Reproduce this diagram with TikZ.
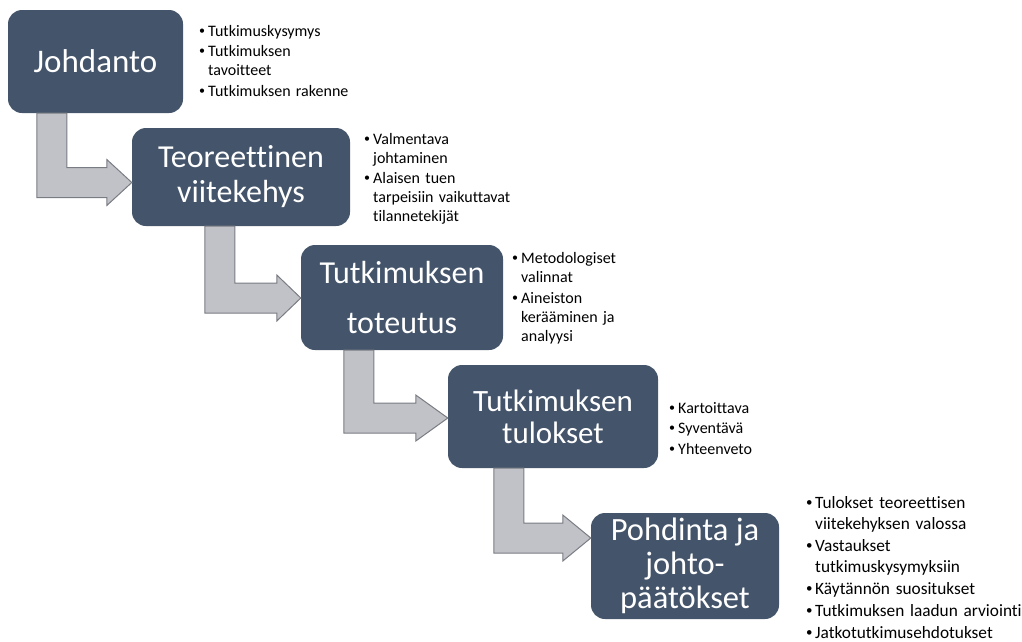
\documentclass[tikz,border=0pt]{standalone}
\usepackage{fontspec}
\setmainfont{Carlito}[Ligatures=CommonOff]
\usepackage{xcolor}
\usetikzlibrary{calc,positioning}

\definecolor{laatikko}{RGB}{68,84,106}
\definecolor{nuoli}{RGB}{192,194,199}
\definecolor{nuolireuna}{RGB}{122,124,132}

% bullet item with hanging indent
\newcommand\bul[1]{\hangindent=9pt\hangafter=1\noindent
  \makebox[9pt][l]{\raisebox{0.12em}{\scalebox{0.75}{\textbullet}}}#1\par}
% bent arrow: #1 box above, #2 tip, #3 shaft offset, #4 head length
\newcommand\taite[4]{%
\draw[pil] let \p1=(#2), \p2=(#1.south) in
 (\x1-#3pt,\y2) -- (\x1-#3pt+30pt,\y2) -- (\x1-#3pt+30pt,\y1+15pt)
 -- (\x1-#4pt,\y1+15pt) -- (\x1-#4pt,\y1+23pt) -- (#2)
 -- (\x1-#4pt,\y1-23pt) -- (\x1-#4pt,\y1-15pt) -- (\x1-#3pt,\y1-15pt) -- cycle;}

\begin{document}
\begin{tikzpicture}[x=1pt,y=-1pt,
  boksi/.style={fill=laatikko,rounded corners=14pt,text=white,align=center,inner sep=0pt},
  lista/.style={anchor=north west,inner sep=0pt,text width=225pt,
    font=\fontsize{16}{19}\selectfont\raggedright\setlength{\parskip}{1.5pt}},
  pil/.style={fill=nuoli,draw=nuolireuna,line width=1pt,line join=miter}]
\useasboundingbox (0,0) rectangle (1022,641);

% boxes
\node[boksi,minimum width=175pt,minimum height=103pt,font=\fontsize{33}{36}\selectfont]
  (johd) at (95.5,61.5) {Johdanto};
\node[boksi,minimum width=218pt,minimum height=98pt,font=\fontsize{32}{35}\selectfont]
  (viite) at (241,177) {Teoreettinen\\viitekehys};
\node[boksi,minimum width=202pt,minimum height=105pt,font=\fontsize{32}{34}\selectfont]
  (toteu) at (402,297.5) {Tutkimuksen\\[16pt]toteutus};
\node[boksi,minimum width=210pt,minimum height=103pt,font=\fontsize{31}{32}\selectfont]
  (tulos) at (553,416.5) {Tutkimuksen\\tulokset};
\node[boksi,minimum width=188pt,minimum height=106pt,font=\fontsize{32.5}{34}\selectfont]
  (pohd) at (685,566) {Pohdinta ja\\johto-\\päätökset};

% arrows
\coordinate (k1) at (viite.west |- 0,182.5);
\coordinate (k2) at (toteu.west |- 0,298);
\coordinate (k3) at (tulos.west |- 0,418);
\coordinate (k4) at (pohd.west |- 0,538);
\taite{johd}{k1}{95}{25}
\taite{viite}{k2}{96}{24}
\taite{toteu}{k3}{104}{32}
\taite{tulos}{k4}{97}{28}

% bullet lists
\node[lista] (l1) at (199,25) {\bul{Tutkimuskysymys}\bul{Tutkimuksen\newline tavoitteet}\bul{Tutkimuksen rakenne}};
\node[lista] (l2) at (364,133) {\bul{Valmentava\newline johtaminen}\bul{Alaisen tuen\newline tarpeisiin vaikuttavat\newline tilannetekijät}};
\node[lista] (l3) at (512,252.5) {\bul{Metodologiset\newline valinnat}\bul{Aineiston\newline kerääminen ja\newline analyysi}};
\node[lista] (l4) at (669,402) {\bul{Kartoittava}\bul{Syventävä}\bul{Yhteenveto}};
\node[lista,font=\fontsize{17.3}{21}\selectfont\raggedright\setlength{\parskip}{1pt}] (l5) at (806,496)
  {\bul{Tulokset teoreettisen\newline viitekehyksen valossa}\bul{Vastaukset\newline tutkimuskysymyksiin}\bul{Käytännön suositukset}\bul{Tutkimuksen laadun arviointi}\bul{Jatkotutkimusehdotukset}};
\end{tikzpicture}
\end{document}
